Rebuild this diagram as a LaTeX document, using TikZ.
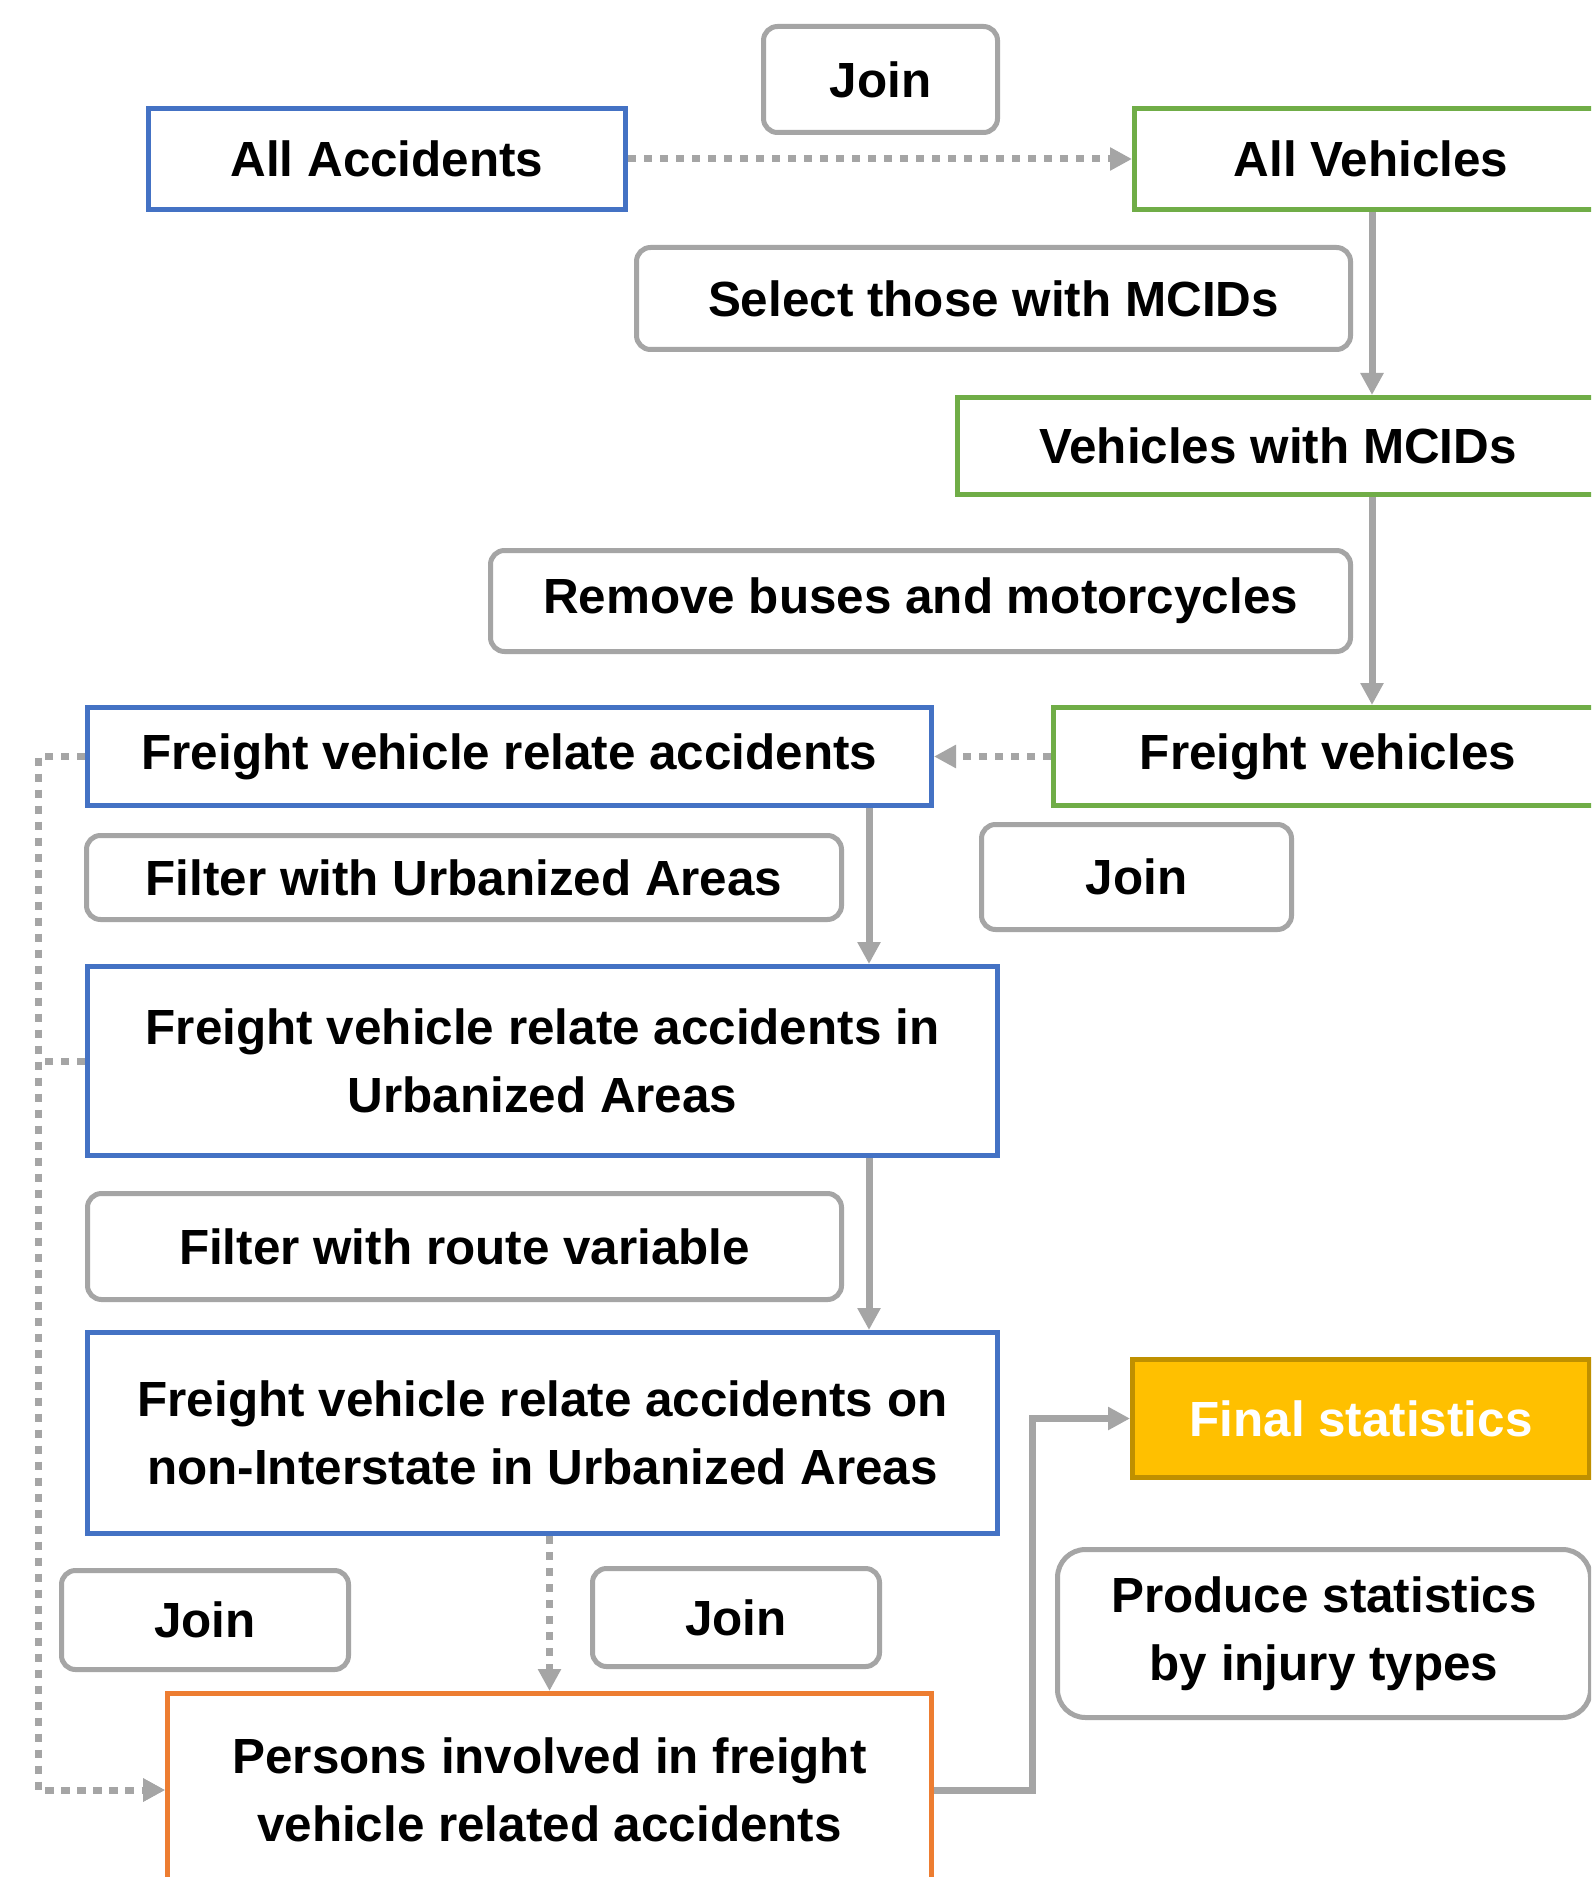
\documentclass[tikz,border=0pt]{standalone}
\usepackage{fontspec}
\setmainfont{Liberation Sans}
\usetikzlibrary{arrows.meta}
\definecolor{cblue}{HTML}{4472C4}
\definecolor{cgreen}{HTML}{70AD47}
\definecolor{corange}{HTML}{ED7D31}
\definecolor{cgold}{HTML}{FFC000}
\definecolor{cgoldd}{HTML}{BF9000}
\definecolor{cgray}{HTML}{A5A5A5}
\begin{document}
\begin{tikzpicture}[x=0.5pt,y=-0.5pt,
  every node/.style={font=\fontsize{24.7}{34}\selectfont\bfseries, align=center, inner sep=0pt},
  databox/.style={draw, line width=2.5pt, fill=white, rectangle},
  bluebox/.style={databox, draw=cblue},
  greenbox/.style={databox, draw=cgreen},
  orangebox/.style={databox, draw=corange},
  goldbox/.style={databox, draw=cgoldd, fill=cgold, text=white},
  opbox/.style={draw=cgray, line width=2.5pt, fill=white, rectangle, rounded corners=7pt},
  conn/.style={draw=cgray, line width=3.5pt, -{Triangle[length=11pt,width=11pt]}},
  dotconn/.style={conn, dash pattern=on 4pt off 4pt}
]
\useasboundingbox (0,0) rectangle (1591,1877);
\clip (0,0) rectangle (1591,1877);
\fill[white] (0,0) rectangle (1591,1877);

% operation labels
\node[opbox, minimum width=117pt, minimum height=53pt] (join1) at (880.5,79.5) {Join};
\node[opbox, minimum width=357pt, minimum height=51pt] (sel) at (993.5,298.5) {Select those with MCIDs};
\node[opbox, minimum width=430pt, minimum height=50.5pt] (rem) at (920.5,601) {Remove buses and motorcycles};
\node[opbox, minimum width=155pt, minimum height=52.5pt] (join2) at (1136.5,877) {Join};
\node[opbox, minimum width=377.5pt, minimum height=42pt] (filua) at (464,877.5) {Filter with Urbanized Areas};
\node[opbox, minimum width=377pt, minimum height=53pt] (filrt) at (464.5,1246.5) {Filter with route variable};
\node[opbox, minimum width=143.5pt, minimum height=49.5pt] (join3) at (205,1620) {Join};
\node[opbox, minimum width=143.5pt, minimum height=49pt] (join4) at (736,1617.5) {Join};
\node[opbox, rounded corners=14pt, minimum width=266.5pt, minimum height=84pt] (prod) at (1324,1633.5) {Produce statistics\\by injury types};

% data boxes
\node[bluebox, minimum width=238.5pt, minimum height=50.5pt] (allacc) at (387,159) {All Accidents};
\node[greenbox, minimum width=236.5pt, minimum height=50.5pt] (allveh) at (1371,159) {All Vehicles};
\node[greenbox, minimum width=320.5pt, minimum height=48.5pt] (vmcid) at (1278,446) {Vehicles with MCIDs};
\node[greenbox, minimum width=274.5pt, minimum height=49pt] (fv) at (1328,756.5) {Freight vehicles};
\node[bluebox, minimum width=422pt, minimum height=49pt] (fvra) at (509.5,756.5) {Freight vehicle relate accidents};
\node[bluebox, minimum width=455pt, minimum height=94.5pt] (fvraua) at (542.5,1061) {Freight vehicle relate accidents in\\Urbanized Areas};
\node[bluebox, minimum width=455pt, minimum height=100.5pt] (noni) at (542.5,1433) {Freight vehicle relate accidents on\\non-Interstate in Urbanized Areas};
\node[goldbox, minimum width=228.5pt, minimum height=59pt] (final) at (1361,1418.5) {Final statistics};
\node[orangebox, minimum width=382pt, minimum height=96.5pt] (pers) at (549.5,1790) {Persons involved in freight\\vehicle related accidents};

% helper coordinates
\coordinate (vlane) at (1372,0);
\coordinate (mlane) at (869,0);
\coordinate (llane) at (38,0);
\coordinate (rlane) at (1032,0);

% connectors
\draw[dotconn] (allacc.east) -- (allveh.west);
\draw[conn] (allveh.south -| vlane) -- (vmcid.north -| vlane);
\draw[conn] (vmcid.south -| vlane) -- (fv.north -| vlane);
\draw[dotconn] (fv.west) -- (fvra.east);
\draw[conn] (fvra.south -| mlane) -- (fvraua.north -| mlane);
\draw[conn] (fvraua.south -| mlane) -- (noni.north -| mlane);
\draw[dotconn] (noni.south -| pers.north) -- (pers.north);
\draw[dotconn] (fvra.west) -- (fvra.west -| llane) -- (llane |- pers.west) -- (pers.west);
\draw[dotconn] (fvraua.west) -- (fvraua.west -| llane) -- (llane |- pers.west) -- (pers.west);
\draw[conn] (pers.east) -- (pers.east -| rlane) -- (rlane |- final.west) -- (final.west);
\end{tikzpicture}
\end{document}
